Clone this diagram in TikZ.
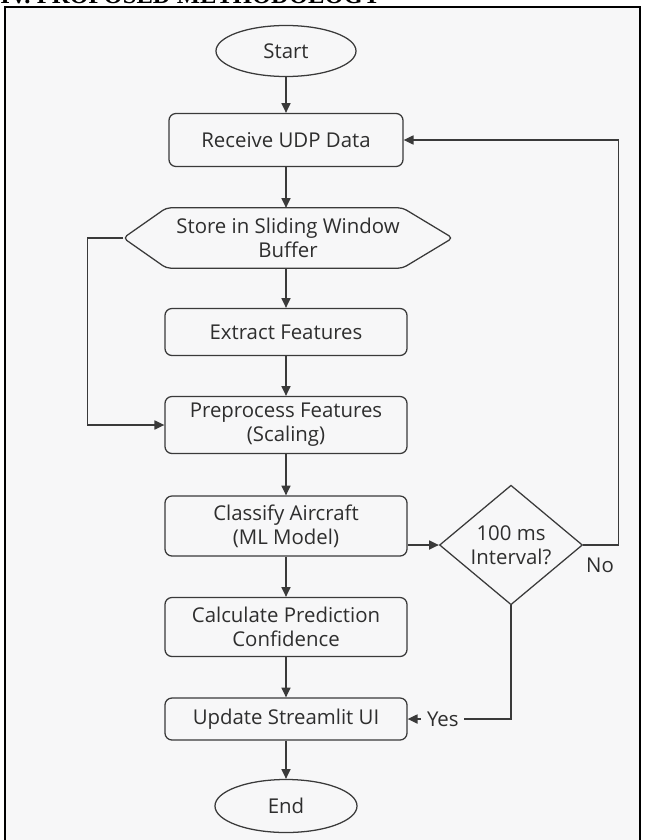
\documentclass[tikz,border=0pt]{standalone}
\usepackage{fontspec}
\setmainfont{Open Sans}
\newfontfamily\headfont{Liberation Serif}
\usetikzlibrary{shapes.geometric,arrows.meta,positioning}

\definecolor{pagebg}{HTML}{F7F7F8}
\definecolor{inkline}{HTML}{3A3A3A}
\definecolor{inktext}{HTML}{2E2E2E}

\tikzset{
  base/.style={draw=inkline, line width=0.9pt, text=inktext, font=\fontsize{14.5}{17}\selectfont, align=center, inner sep=2pt},
  process/.style={base, rectangle, rounded corners=5pt, minimum width=6.05cm},
  terminal/.style={base, ellipse, inner sep=0pt},
  decision/.style={base, diamond, inner sep=0pt, minimum width=3.575cm, minimum height=2.225cm},
  flow/.style={draw=inkline, line width=0.9pt, -{Triangle[length=7pt,width=6.5pt]}},
  lbl/.style={text=inktext, font=\fontsize{14.5}{17}\selectfont}
}

\begin{document}
\begin{tikzpicture}[x=0.025cm, y=-0.025cm]
      \useasboundingbox (0,0) rectangle (644,840);
      \fill [pagebg] (5,7) rectangle (640,845);
      \node (head) [anchor=base west, inner sep=0pt, font=\headfont\bfseries\fontsize{17.5}{19}\selectfont] at (0,4) {IV. PROPOSED METHODOLOGY};
      \draw [line width=1.4pt] (5,845) -- (5,7) -- (640,7) -- (640,845);

      \node (start) [terminal, minimum width=3.5cm, minimum height=1.275cm] at (286,51) {Start};
      \node (recv) [process, minimum width=5.85cm, minimum height=1.325cm] at (286,140) {Receive UDP Data};
      \node (store) [base, draw=none, minimum width=8.2cm, minimum height=1.475cm] at (288,238) {Store in Sliding Window\\Buffer};
      \draw [draw=inkline, line width=0.9pt, rounded corners=3pt] (store.west) -- ([xshift=1.075cm]store.north west) -- ([xshift=-1.25cm]store.north east) -- (store.east) -- ([xshift=-1.25cm]store.south east) -- ([xshift=1.075cm]store.south west) -- cycle;
      \node (extract) [process, minimum height=1.175cm] at (286,332) {Extract Features};
      \node (prep) [process, minimum height=1.425cm] at (286,425) {Preprocess Features\\(Scaling)};
      \node (classify) [process, minimum height=1.5cm] at (286,526) {Classify Aircraft\\(ML Model)};
      \node (calc) [process, minimum height=1.475cm] at (286,627) {Calculate Prediction\\Confidence};
      \node (update) [process, minimum height=1.05cm] at (286,719) {Update Streamlit UI};
      \node (end) [terminal, minimum width=3.55cm, minimum height=1.325cm] at (286,806) {End};
      \node (check) [decision] at (511,545) {100 ms\\Interval?};
      \node (no) [lbl, below right=0.2cm and -0.05cm of check.east] {No};

      \draw [flow] (start) to node {} (recv);
      \draw [flow] (recv) to node {} (recv |- store.north);
      \draw [flow] (recv |- store.south) to node {} (extract);
      \draw [flow] (extract) to node {} (prep);
      \draw [flow] (prep) to node {} (classify);
      \draw [flow] (classify) to node {} (calc);
      \draw [flow] (calc) to node {} (update);
      \draw [flow] (update) to node {} (end);
      \draw [flow] (store.west) -- ++(-0.9cm,0) |- (prep.west);
      \draw [flow] (classify.east |- check.west) -- (check.west);
      \draw [flow] (check.east) -- ++(0.89cm,0) |- (recv.east);
      \draw [flow] (check.south) |- node [lbl, pos=0.83, fill=pagebg, inner sep=4pt] {Yes} (update.east);
      \end{tikzpicture}
\end{document}
